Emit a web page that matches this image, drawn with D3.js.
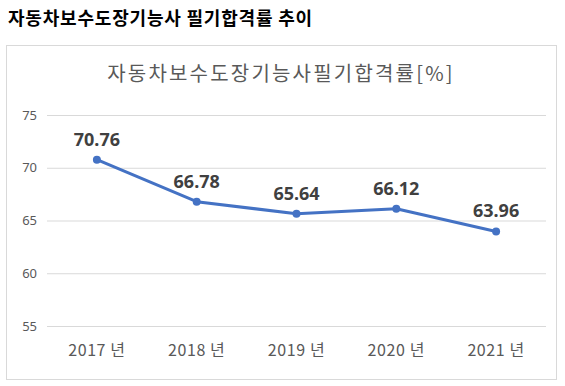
<!DOCTYPE html>
<html>
<head>
<meta charset="utf-8">
<script src="https://cdn.jsdelivr.net/npm/d3@7"></script>
<style>
  body { margin: 0; background: #fff; font-family: "Noto Sans CJK KR", "Noto Sans", sans-serif; }
</style>
</head>
<body>
<script>
// chart data
var years = ["2017 년", "2018 년", "2019 년", "2020 년", "2021 년"];
var passRate = [70.76, 66.78, 65.64, 66.12, 63.96];
var yTicks = [55, 60, 65, 70, 75];

var svgWidth = 565;
var svgHeight = 386;

// plot area inside the chart box
var plot = { left: 47, right: 546, top: 115, bottom: 326 };

var svg = d3.select("body")
  .append("svg")
  .attr("width", svgWidth)
  .attr("height", svgHeight);

// page heading
svg.append("text")
  .attr("x", 8)
  .attr("y", 25)
  .attr("font-size", 18)
  .attr("font-weight", "bold")
  .attr("letter-spacing", 0.8)
  .attr("fill", "#000")
  .text("자동차보수도장기능사 필기합격률 추이");

// chart box
svg.append("rect")
  .attr("x", 6.5)
  .attr("y", 45.5)
  .attr("width", 550)
  .attr("height", 334)
  .attr("fill", "#fff")
  .attr("stroke", "#d9d9d9");

// chart title
svg.append("text")
  .attr("x", 281)
  .attr("y", 81)
  .attr("text-anchor", "middle")
  .attr("font-size", 20)
  .attr("letter-spacing", 2.2)
  .attr("fill", "#595959")
  .text("자동차보수도장기능사필기합격률[%]");

var xScale = d3.scaleBand()
  .domain(years)
  .range([plot.left, plot.right]);

var yScale = d3.scaleLinear()
  .domain([55, 75])
  .range([plot.bottom, plot.top]);

// gridlines + y labels
var leftAxis = d3.axisLeft(yScale)
  .tickValues(yTicks)
  .tickSize(-(plot.right - plot.left))
  .tickPadding(10);

var gy = svg.append("g")
  .attr("transform", `translate(${plot.left}, 0)`)
  .call(leftAxis);
gy.select(".domain").remove();
gy.selectAll("line").attr("stroke", "#d9d9d9");
gy.selectAll("text")
  .attr("fill", "#595959")
  .attr("font-size", 13)
  .attr("font-family", "'Noto Sans', sans-serif");

// x labels
var bottomAxis = d3.axisBottom(xScale).tickSize(0).tickPadding(19);
var gx = svg.append("g")
  .attr("transform", `translate(0, ${plot.bottom})`)
  .call(bottomAxis);
gx.select(".domain").remove();
gx.selectAll("text")
  .attr("fill", "#595959")
  .attr("font-size", 16)
  .attr("letter-spacing", 0.6)
  .attr("font-family", "'Noto Sans CJK KR', sans-serif");

var points = years.map(function (y, i) { return { year: y, value: passRate[i] }; });

var line = d3.line()
  .x(d => xScale(d.year) + xScale.bandwidth() / 2)
  .y(d => yScale(d.value));

svg.append("path")
  .datum(points)
  .attr("d", line)
  .attr("fill", "none")
  .attr("stroke", "#4472c4")
  .attr("stroke-width", 3)
  .attr("stroke-linejoin", "round");

svg.selectAll(".dot")
  .data(points)
  .enter()
  .append("circle")
  .attr("class", "dot")
  .attr("cx", d => xScale(d.year) + xScale.bandwidth() / 2)
  .attr("cy", d => yScale(d.value))
  .attr("r", 4)
  .attr("fill", "#4472c4");

// data labels
svg.selectAll(".lbl")
  .data(points)
  .enter()
  .append("text")
  .attr("class", "lbl")
  .attr("x", d => xScale(d.year) + xScale.bandwidth() / 2)
  .attr("y", d => yScale(d.value) - 14)
  .attr("text-anchor", "middle")
  .attr("font-size", 18)
  .attr("font-weight", "bold")
  .attr("font-family", "'Noto Sans', sans-serif")
  .attr("fill", "#404040")
  .text(d => d.value.toFixed(2));
</script>
</body>
</html>
